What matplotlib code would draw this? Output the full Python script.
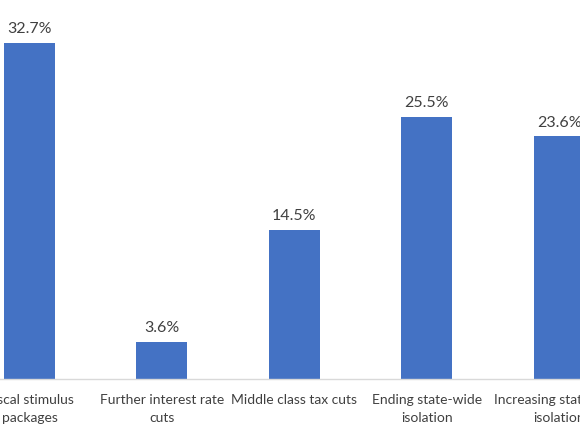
import matplotlib
matplotlib.use("Agg")
import matplotlib.pyplot as plt

categories = ["Fiscal stimulus\npackages", "Further interest rate\ncuts", "Middle class tax cuts",
              "Ending state-wide\nisolation", "Increasing state-wide\nisolation"]
values = [32.7, 3.6, 14.5, 25.5, 23.6]
value_labels = ["32.7%", "3.6%", "14.5%", "25.5%", "23.6%"]

plt.rcParams['font.family'] = ['Lato', 'DejaVu Sans']

W, H = 580, 435
fig = plt.figure(figsize=(W/100, H/100), dpi=100)
base = 379.5
ax = fig.add_axes([0, (H-base)/H, 1, base/H])
x = list(range(len(values)))
ax.bar(x, values, width=0.385, color="#4472C4", zorder=2)
ppu = 132.4
left = -29.5/ppu
ax.set_xlim(left, left + W/ppu)
ax.set_ylim(0, base/10.26)
for xi, v, lab in zip(x, values, value_labels):
    ax.annotate(lab, (xi, v), xytext=(0, 5.5), textcoords="offset points",
                ha="center", va="bottom", fontsize=11.5, color="#404040")
for s in ["top", "left", "right"]:
    ax.spines[s].set_visible(False)
ax.spines["bottom"].set_color("#d9d9d9")
ax.spines["bottom"].set_linewidth(1)
ax.set_yticks([])
ax.set_xticks(x)
ax.set_xticklabels(categories, fontsize=10, color="#404040", linespacing=1.55)
ax.tick_params(axis="x", length=0, pad=10.5)
fig.savefig("out.png", dpi=100)
